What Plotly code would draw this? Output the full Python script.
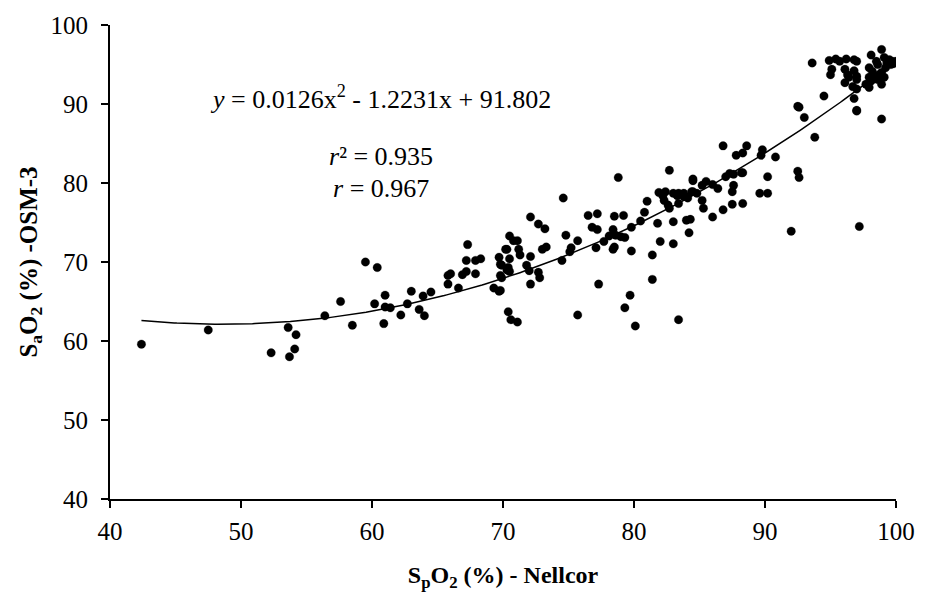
import numpy as np
import plotly.graph_objects as go

# S_pO2 (Nellcor) values
spo2 = [42.4, 47.5, 53.6, 54.2, 52.3, 54.1, 53.7, 56.4,
        57.6, 58.5, 59.5, 60.4, 60.2, 61.0, 61.0, 61.4, 60.9, 62.2, 62.7, 63.0, 63.6, 64.0, 63.9, 64.5,
        65.8, 66.0, 65.8, 66.6, 66.9, 67.2, 67.3, 67.2, 67.9, 67.9, 68.3, 69.3, 69.7, 69.8,
        69.7, 69.8, 70.4, 70.5, 70.2, 70.5, 70.8, 70.4, 70.6, 71.1,
        82.7, 78.8, 74.6, 72.1, 72.7, 73.2, 71.1, 70.3, 71.2, 71.3,
        69.9, 70.3, 70.5, 69.9, 69.8, 72.1, 71.8, 72.0, 72.7, 72.8, 72.1, 73.0, 73.3,
        74.5, 74.8, 75.1, 75.2, 75.7, 76.5, 77.2, 76.8, 77.2, 77.1, 77.7,
        78.1, 78.4, 78.5, 78.6, 79.0, 79.3, 79.2, 78.4, 78.5, 79.8, 79.8,
        80.5, 80.8, 81.0, 81.4, 81.4, 81.8, 82.0,
        81.9, 82.2, 82.3, 82.6, 82.7, 82.4, 83.0, 83.3, 83.4, 83.8, 84.1, 84.5, 84.5,
        83.0, 83.0, 84.0, 84.3, 84.2,
        77.3, 79.7, 79.3, 80.1, 75.7, 83.4,
        92.5, 92.6, 93.0, 97.0, 98.9, 93.8, 86.8, 88.6, 88.3, 87.8, 89.8, 89.7, 90.8,
        87.0, 87.3, 87.6, 88.2, 88.3, 90.2, 92.5, 92.6,
        84.5, 85.2, 85.5, 86.0, 86.4, 87.6, 87.5, 89.6, 90.2,
        83.4, 83.8, 84.4, 84.8, 85.2, 85.3, 86.8, 87.5, 88.3, 86.0, 92.0, 97.2,
        93.6, 94.9, 95.4, 95.7, 96.2, 96.8, 97.0, 95.1, 95.0,
        96.1, 96.3, 96.4, 96.1, 96.8, 97.0, 97.0, 96.7, 97.0, 96.8, 97.0,
        98.1, 98.9, 94.5,
        97.95, 98.2, 98.5, 98.6, 98.7, 98.9, 99.1, 99.2, 99.3, 99.5, 99.6, 99.7, 99.8, 100.0,
        98.3, 97.95, 98.1, 98.6, 98.9, 99.1, 97.7, 97.95]

# S_aO2 (OSM-3) values
sao2 = [59.6, 61.4, 61.7, 60.8, 58.5, 59.0, 58.0, 63.2,
        65.0, 62.0, 70.0, 69.3, 64.7, 65.8, 64.3, 64.2, 62.2, 63.3, 64.7, 66.3, 64.0, 63.2, 65.7, 66.2,
        68.3, 68.5, 67.2, 66.7, 68.4, 68.8, 72.2, 70.2, 68.5, 70.2, 70.4, 66.7, 66.3, 68.3,
        70.6, 69.7, 69.3, 70.4, 71.6, 73.3, 72.7, 63.7, 62.7, 62.4,
        81.6, 80.7, 78.1, 75.7, 74.8, 74.2, 72.7, 71.6, 71.6, 70.9,
        69.6, 69.0, 68.8, 68.0, 66.4, 70.7, 69.6, 68.9, 68.7, 68.0, 67.2, 71.6, 71.9,
        70.2, 73.4, 71.3, 71.8, 72.7, 75.9, 76.1, 74.4, 74.1, 71.8, 72.6,
        73.3, 74.1, 75.8, 73.4, 73.2, 73.1, 75.9, 71.6, 71.9, 74.4, 71.4,
        75.2, 76.3, 77.7, 70.9, 67.8, 74.9, 72.6,
        78.8, 78.4, 77.8, 77.2, 76.8, 78.9, 78.7, 78.4, 77.4, 78.7, 78.1, 80.3, 78.9,
        75.1, 72.3, 75.3, 75.4, 73.7,
        67.2, 65.8, 64.2, 61.9, 63.3, 62.7,
        89.7, 89.6, 88.3, 89.2, 88.1, 85.8, 84.7, 84.7, 83.8, 83.5, 84.2, 83.5, 83.3,
        80.8, 81.2, 81.1, 81.3, 81.3, 80.8, 81.5, 80.7,
        80.5, 79.7, 80.2, 79.8, 79.3, 79.7, 78.9, 78.7, 78.7,
        78.7, 78.3, 78.9, 78.7, 77.8, 76.8, 76.6, 77.3, 77.4, 75.7, 73.9, 74.5,
        95.2, 95.5, 95.7, 95.4, 95.7, 95.6, 95.4, 94.4, 93.7,
        94.4, 93.7, 93.4, 92.7, 94.2, 93.5, 93.1, 92.2, 91.9, 90.7, 89.1,
        96.2, 96.9, 91.0,
        94.6, 94.1, 95.4, 95.0, 93.7, 94.0, 95.9, 94.6, 95.2, 95.6, 95.0, 95.4, 95.1, 95.4,
        93.5, 93.4, 92.9, 93.1, 92.5, 93.4, 92.5, 92.1]

# Quadratic trendline coefficients (from the chart's equation)
coef_a, coef_b, coef_c = 0.0126, -1.2231, 91.802

x_axis_ticks = [40, 50, 60, 70, 80, 90, 100]
y_axis_ticks = [40, 50, 60, 70, 80, 90, 100]

FONT = "Liberation Serif, Times New Roman, serif"

fx = np.linspace(min(spo2), max(spo2), 300)
fy = coef_a * fx**2 + coef_b * fx + coef_c

fig = go.Figure()
fig.add_trace(go.Scatter(x=fx, y=fy, mode="lines",
                         line=dict(color="black", width=1.5), hoverinfo="skip",
                         showlegend=False))
fig.add_trace(go.Scatter(x=spo2, y=sao2, mode="markers",
                         marker=dict(color="black", size=8.5,
                                     line=dict(color="rgba(0,0,0,0.25)", width=1)),
                         showlegend=False))

axis_common = dict(showgrid=False, zeroline=False, showline=True, linecolor="black",
                   linewidth=2, ticks="outside", tickcolor="black", ticklen=7, tickwidth=2,
                   tickfont=dict(family=FONT, size=25, color="black"))

fig.update_xaxes(range=[40, 100], tickvals=x_axis_ticks, ticklabelstandoff=2, **axis_common,
                 title=dict(text="<b>S<sub>p</sub>O<sub>2</sub> (%) - Nellcor</b>",
                            font=dict(family=FONT, size=24, color="black"), standoff=22))
fig.update_yaxes(range=[40, 100], tickvals=y_axis_ticks, ticklabelstandoff=8, **axis_common,
                 title=dict(text="<b>S<sub>a</sub>O<sub>2</sub> (%) -OSM-3</b>",
                            font=dict(family=FONT, size=25, color="black"), standoff=6))

ann_font = dict(family=FONT, size=26, color="black")
fig.add_annotation(xref="paper", yref="paper", x=(383 - 110) / 792, y=1 - (93 - 20) / 479,
                   text="<i>y</i> = 0.0126x<sup>2</sup> - 1.2231x + 91.802",
                   showarrow=False, font=ann_font, xanchor="center", yanchor="middle")
fig.add_annotation(xref="paper", yref="paper", x=(383 - 110) / 792, y=1 - (153 - 20) / 479,
                   text="<i>r</i>² = 0.935", showarrow=False, font=ann_font,
                   xanchor="center", yanchor="middle")
fig.add_annotation(xref="paper", yref="paper", x=(383 - 110) / 792, y=1 - (185 - 20) / 479,
                   text="<i>r</i> = 0.967", showarrow=False, font=ann_font,
                   xanchor="center", yanchor="middle")

fig.update_layout(width=927, height=603, paper_bgcolor="white", plot_bgcolor="white",
                  margin=dict(l=110, r=25, t=20, b=104),
                  font=dict(family=FONT, color="black"))

fig.write_html("out.html")
